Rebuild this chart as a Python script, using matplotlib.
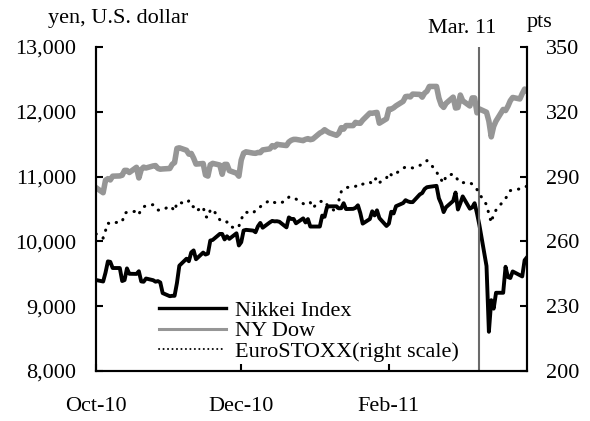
import matplotlib
matplotlib.use("Agg")
import matplotlib.pyplot as plt
import matplotlib.dates as mdates
import pandas as pd

plt.rcParams["font.family"] = ["Liberation Serif", "DejaVu Serif"]

dates = pd.bdate_range("2010-10-01", "2011-03-31")

nikkei = [
    9404, 9381, 9518, 9691, 9684, 9589, 9589, 9388, 9403, 9583, 9500, 9498, 9539, 9382, 9377, 9427, 9401, 9378, 9387, 9366, 9202,
    9154, 9160, 9160, 9358, 9625, 9732, 9694, 9830, 9861, 9724, 9827, 9797, 9811, 10013, 10022, 10115, 10115, 10030, 10079, 10039, 10125, 9937,
    9988, 10168, 10178, 10167, 10141, 10232, 10285, 10211, 10293, 10316, 10309, 10311, 10303, 10216, 10370, 10346, 10346, 10279, 10355, 10292, 10344, 10229, 10229,
    10229, 10398, 10380, 10529, 10541, 10541, 10510, 10512, 10589, 10499, 10502, 10518, 10557, 10437, 10274, 10345, 10464, 10401, 10479, 10360, 10238,
    10274, 10457, 10431, 10543, 10592, 10636, 10617, 10606, 10606, 10725, 10746, 10808, 10836, 10842, 10857, 10665, 10579, 10452, 10527, 10624,
    10754, 10492, 10586, 10694, 10505, 10525, 10589, 10434, 10254, 9620, 8605, 9093, 8962, 9207, 9207, 9608, 9449, 9435, 9536, 9478, 9459, 9709, 9755,
]

ny_dow = [
    10829, 10751, 10944, 10968, 10948, 11006, 11010, 11021, 11096, 11095, 11063, 11143, 10979, 11108, 11146, 11133, 11164, 11170, 11126, 11114, 11118,
    11125, 11189, 11216, 11435, 11444, 11406, 11347, 11357, 11284, 11193, 11202, 11024, 11008, 11182, 11204, 11178, 11036, 11188, 11188, 11092, 11052, 11006,
    11256, 11362, 11382, 11362, 11359, 11372, 11370, 11411, 11428, 11477, 11457, 11499, 11492, 11479, 11534, 11560, 11574, 11574, 11555, 11575, 11585, 11570, 11578,
    11671, 11691, 11723, 11697, 11675, 11637, 11671, 11755, 11732, 11787, 11787, 11837, 11825, 11823, 11871, 11980, 11977, 11985, 11990, 11824, 11892,
    12040, 12041, 12062, 12092, 12161, 12234, 12239, 12229, 12273, 12268, 12226, 12288, 12318, 12391, 12391, 12213, 12106, 12068, 12130, 12226,
    12058, 12066, 12258, 12170, 12090, 12214, 12214, 11984, 12044, 11993, 11855, 11613, 11775, 11858, 12036, 12019, 12086, 12171, 12221, 12198, 12280, 12350, 12320,
]

euro_stoxx = [
    263.5, 261.5, 265, 268.5, 268, 268.5, 269, 269, 273, 273.5, 273.5, 274, 272.5, 275, 276, 276.5, 277, 275.5, 274.5, 274.5, 274.5,
    276.4, 275.5, 274, 277.9, 278, 277.5, 278.8, 276.4, 276, 274, 276, 271.5, 271, 274.5, 275, 270, 269, 269, 269, 267, 266, 267,
    270, 273, 273.5, 273, 274.5, 275.5, 276, 277, 279, 278.5, 278, 277.8, 277.5, 279, 280.5, 280.7, 280, 279.6, 277.5, 276.9, 277.5, 278, 275.5,
    278.5, 278.5, 278.8, 277, 276, 273.5, 279, 283, 284, 285, 285, 285.5, 286, 285.6, 286.5, 287.5, 286.6, 288.5, 289.5, 287.2, 289.3,
    291.8, 290.8, 290.3, 291.5, 293.8, 294.5, 294.4, 294.2, 294, 295.2, 295.6, 296.5, 297.4, 296.5, 292.3, 290, 288.5, 287, 290.3, 291.2,
    290, 288.4, 288.5, 287.2, 287.2, 286.5, 285.5, 284, 282, 277, 272.7, 268.7, 272.7, 274.5, 278.5, 279.9, 281.5, 283.5, 283.8, 284.3, 285, 285.3, 285.5,
]

event_date = pd.Timestamp("2011-03-11")
x_ticks = pd.to_datetime(["2010-10-01", "2010-12-01", "2011-02-01"])
left_ticks = [8000, 9000, 10000, 11000, 12000, 13000]
right_ticks = [200, 230, 260, 290, 320, 350]

fs = 16
fig = plt.figure(figsize=(5.9, 4.21), dpi=100)
ax = fig.add_axes([0.1627, 0.1188, 0.7305, 0.7696])
ax2 = ax.twinx()

l1, = ax.plot(dates, nikkei, color="black", lw=2.8, label="Nikkei Index")
l2, = ax.plot(dates, ny_dow, color="#969696", lw=4, label="NY Dow")
l3, = ax2.plot(dates, euro_stoxx, color="black", lw=2.2, linestyle=(0, (0.1, 2.6)),
               dash_capstyle="round", label="EuroSTOXX(right scale)")
ax.axvline(event_date, color="#6a6a6a", lw=1.5)

ax.set_xlim(pd.Timestamp("2010-10-01"), pd.Timestamp("2011-03-31"))
ax.set_ylim(8000, 13000)
ax2.set_ylim(200, 350)
ax.set_yticks(left_ticks)
ax.set_yticklabels([f"{v:,}" for v in left_ticks])
ax2.set_yticks(right_ticks)
ax.set_xticks(x_ticks)
ax.xaxis.set_major_formatter(mdates.DateFormatter("%b-%y"))

ax.tick_params(axis="y", direction="in", length=5, width=1.5, labelsize=fs, pad=14)
ax.tick_params(axis="x", direction="in", length=5, width=1.5, labelsize=fs, pad=19)
ax2.tick_params(axis="y", direction="in", length=5, width=1.5, labelsize=fs, pad=14)

for a in (ax, ax2):
    a.spines["top"].set_visible(False)
    for s in ("left", "right", "bottom"):
        a.spines[s].set_linewidth(1.5)

fig.text(0.082, 0.957, "yen, U.S. dollar", fontsize=fs, va="center", ha="left")
fig.text(0.893, 0.947, "pts", fontsize=fs, va="center", ha="left")
fig.text(0.783, 0.933, "Mar. 11", fontsize=fs, va="center", ha="center")

leg = ax.legend(handles=[l1, l2, l3], loc="lower left", bbox_to_anchor=(0.11, -0.02),
                frameon=False, fontsize=fs, handlelength=3.0, handletextpad=0.4,
                labelspacing=0.0, borderpad=0.2)
leg_lines = leg.get_lines()
leg_lines[0].set_linewidth(2.4)
leg_lines[1].set_linewidth(2.2)
leg_lines[2].set_linewidth(1.4)
leg_lines[2].set_linestyle((0, (0.1, 2.2)))

fig.savefig("out.png", dpi=100)
